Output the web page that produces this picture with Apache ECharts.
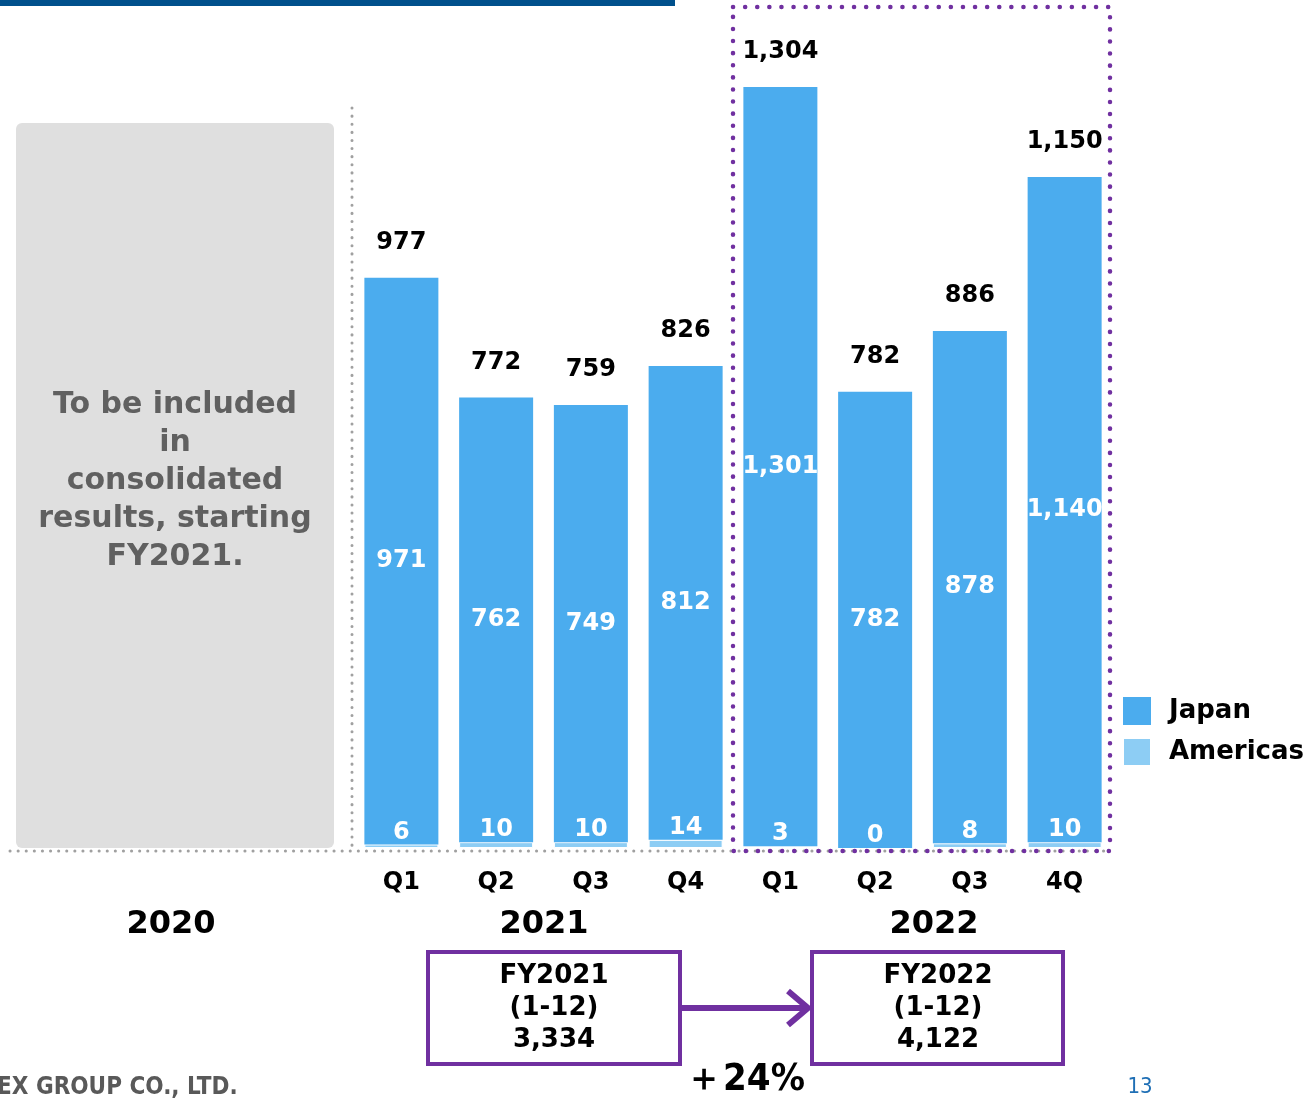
<!DOCTYPE html>
<html><head><meta charset="utf-8">
<script src="https://cdn.jsdelivr.net/npm/echarts@6/dist/echarts.min.js"></script>
<style>html,body{margin:0;padding:0;background:#fff}#c{width:1307px;height:1102px}</style>
</head><body><div id="c"></div>
<script>
const categories = ['Q1','Q2','Q3','Q4','Q1','Q2','Q3','4Q'];
const japan = [971,762,749,812,1301,782,878,1140];
const americas = [6,10,10,14,3,0,8,10];
const totals = [977,772,759,826,1304,782,886,1150];
const yearLabels = ['2020','2021','2022'];
const fyBoxes = [['FY2021','(1-12)','3,334'],['FY2022','(1-12)','4,122']];
const growth = '＋24%';

const F = '"DejaVu Sans", Verdana, sans-serif';
const FC = '"DejaVu Sans Condensed", "DejaVu Sans", sans-serif';
const PURPLE = '#7030A0';
const fmt = v => v.toLocaleString('en-US');

const chart = echarts.init(document.getElementById('c'), null, {renderer:'canvas'});
chart.setOption({
  animation:false,
  backgroundColor:'#fff',
  grid:{left:354, right:195, top:31, bottom:254},
  xAxis:{type:'category', data:categories, axisLine:{show:false}, axisTick:{show:false},
    axisLabel:{margin:23, fontSize:24, fontWeight:'bold', color:'#000', fontFamily:F}},
  yAxis:{type:'value', min:0, max:1400, show:false, splitLine:{show:false}},
  legend:{data:['Japan','Americas'], orient:'vertical', left:1122, top:697, padding:0, itemWidth:28, itemHeight:28, itemGap:12,
    icon:'rect', textStyle:{fontSize:26, fontWeight:'bold', color:'#000', fontFamily:F, padding:[0,0,0,13]}},
  series:[
    {name:'Americas', type:'bar', stack:'s', data:americas, barWidth:74,
      itemStyle:{color:'#8DCDF4', borderColor:'#fff', borderWidth:1},
      label:{show:true, position:'top', distance:0, color:'#fff', fontSize:24, fontWeight:'bold', fontFamily:F, lineHeight:24}},
    {name:'Japan', type:'bar', stack:'s', data:japan, barWidth:74,
      itemStyle:{color:'#4BACEE'},
      label:{show:true, position:'inside', color:'#fff', fontSize:24, fontWeight:'bold', fontFamily:F, formatter:p=>fmt(p.value)}},
    {name:'Total', type:'scatter', data:totals, symbolSize:0, silent:true, itemStyle:{opacity:1, color:'#000'},
      label:{show:true, position:'top', distance:23, color:'#000', opacity:1, fontSize:24, fontWeight:'bold', fontFamily:F, lineHeight:24, formatter:p=>fmt(p.value)}}
  ],
  graphic:[
    {type:'rect', shape:{x:0,y:0,width:675,height:6}, style:{fill:'#00508C'}},
    {type:'rect', shape:{x:16,y:123,width:318,height:725,r:6}, style:{fill:'#DFDFDF'}, z:-1},
    {type:'text', x:175, y:481, style:{text:'To be included\nin\nconsolidated\nresults, starting\nFY2021.', align:'center', verticalAlign:'middle',
      font:'bold 30px '+F, fill:'#606060', lineHeight:38}},
    {type:'line', shape:{x1:352,y1:108,x2:352,y2:848}, style:{stroke:'#A0A0A0', lineWidth:3, lineDash:[0.1,8], lineCap:'round'}},
    {type:'line', shape:{x1:10,y1:851,x2:1110,y2:851}, style:{stroke:'#A0A0A0', lineWidth:3, lineDash:[0.1,8], lineCap:'round'}, z:5},
    {type:'rect', shape:{x:733,y:7,width:377,height:844}, style:{fill:'none', stroke:PURPLE, lineWidth:4.5, lineDash:[0.1,12], lineCap:'round'}, z:10},
    {type:'text', x:171, y:925, style:{text:yearLabels[0], align:'center', verticalAlign:'middle', font:'bold 32px '+F, fill:'#000'}},
    {type:'text', x:544, y:925, style:{text:yearLabels[1], align:'center', verticalAlign:'middle', font:'bold 32px '+F, fill:'#000'}},
    {type:'text', x:934, y:925, style:{text:yearLabels[2], align:'center', verticalAlign:'middle', font:'bold 32px '+F, fill:'#000'}},
    {type:'rect', shape:{x:428,y:952,width:252,height:112}, style:{fill:'#fff', stroke:PURPLE, lineWidth:4}},
    {type:'rect', shape:{x:812,y:952,width:251,height:112}, style:{fill:'#fff', stroke:PURPLE, lineWidth:4}},
    {type:'text', x:554, y:1008, style:{text:fyBoxes[0].join('\n'), align:'center', verticalAlign:'middle', font:'bold 26px '+F, fill:'#000', lineHeight:32}},
    {type:'text', x:938, y:1008, style:{text:fyBoxes[1].join('\n'), align:'center', verticalAlign:'middle', font:'bold 26px '+F, fill:'#000', lineHeight:32}},
    {type:'line', shape:{x1:680,y1:1008,x2:806,y2:1008}, style:{stroke:PURPLE, lineWidth:6}},
    {type:'polyline', shape:{points:[[788,991],[808,1008],[788,1025]]}, style:{stroke:PURPLE, lineWidth:6, fill:'none', lineJoin:'miter'}},
    {type:'text', x:745, y:1080, style:{text:growth, align:'center', verticalAlign:'middle', font:'bold 38px '+FC, fill:'#000'}},
    {type:'text', x:-3, y:1088, style:{text:'EX GROUP CO., LTD.', align:'left', verticalAlign:'middle', font:'bold 24px '+FC, fill:'#595959'}},
    {type:'text', x:1140, y:1087, style:{text:'13', align:'center', verticalAlign:'middle', font:'22px '+FC, fill:'#1F6FB5'}}
  ]
});
</script></body></html>
